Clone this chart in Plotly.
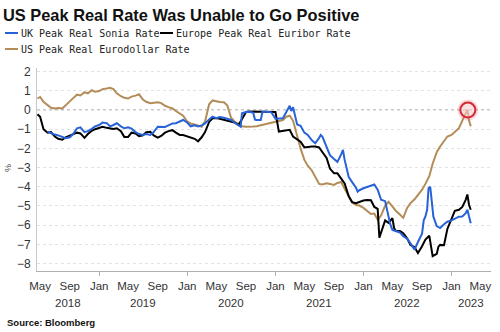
import plotly.graph_objects as go

# ---------------- data ----------------
us_dates = ["2018-04-20","2018-05-01","2018-05-15","2018-06-01","2018-06-15","2018-07-01","2018-07-15","2018-08-01","2018-08-15","2018-09-01","2018-09-15","2018-10-01","2018-10-15","2018-11-01","2018-11-15","2018-12-01","2018-12-15",
 "2019-01-01","2019-01-15","2019-02-01","2019-02-15","2019-03-01","2019-03-15","2019-04-01","2019-04-15","2019-05-01","2019-05-15","2019-06-01","2019-06-15","2019-07-01","2019-07-15","2019-08-01","2019-08-15","2019-09-01","2019-09-15","2019-10-01","2019-10-15","2019-11-01","2019-11-15","2019-12-01","2019-12-15",
 "2020-01-01","2020-01-15","2020-02-01","2020-02-15","2020-03-01","2020-03-15","2020-04-01","2020-04-15","2020-05-01","2020-05-15","2020-06-01","2020-06-15","2020-07-01","2020-07-15","2020-08-01","2020-08-15","2020-09-01","2020-09-15","2020-10-01","2020-10-15","2020-11-01","2020-11-15","2020-12-01","2020-12-15",
 "2021-01-01","2021-01-15","2021-02-01","2021-02-15","2021-03-01","2021-03-15","2021-04-01","2021-04-15","2021-05-01","2021-05-15","2021-06-01","2021-06-15","2021-07-01","2021-07-15","2021-08-01","2021-08-15","2021-09-01","2021-09-15","2021-10-01","2021-10-15","2021-11-01","2021-11-15","2021-12-01","2021-12-15",
 "2022-01-01","2022-01-15","2022-02-01","2022-02-15","2022-03-01","2022-03-15","2022-04-01","2022-04-15","2022-05-01","2022-05-15","2022-06-01","2022-06-15","2022-07-01","2022-07-15","2022-08-01","2022-08-15","2022-09-01","2022-09-15","2022-10-01","2022-10-15","2022-11-01","2022-11-15","2022-12-01","2022-12-15",
 "2023-01-01","2023-01-15","2023-02-01","2023-02-15","2023-03-01","2023-03-08","2023-03-15","2023-03-22"]
us_values = [0.60,0.68,0.43,0.24,0.12,0.08,0.10,0.08,0.26,0.48,0.62,0.80,0.76,0.93,0.87,1.03,0.95,
 0.99,1.09,1.12,1.16,1.09,0.87,0.72,0.64,0.60,0.70,0.75,0.82,0.55,0.43,0.35,0.38,0.40,0.36,0.22,0.15,0.08,-0.05,-0.18,-0.30,
 -0.60,-0.70,-0.75,-0.82,-0.87,-0.60,0.30,0.50,0.45,0.42,0.40,0.25,-0.40,-0.60,-0.72,-0.85,-0.87,-0.88,-0.86,-0.85,-0.80,-0.75,-0.70,-0.65,
 -0.60,-0.55,-0.52,-0.35,-0.30,-0.55,-1.40,-2.00,-2.60,-2.90,-3.15,-3.45,-3.85,-3.88,-3.82,-3.85,-3.90,-3.80,-3.75,-4.10,-4.50,-4.82,-4.95,-4.98,
 -5.10,-5.25,-5.42,-5.40,-5.72,-5.50,-4.98,-4.78,-5.05,-5.25,-5.45,-5.62,-5.10,-4.85,-4.65,-4.45,-4.15,-3.85,-3.45,-2.80,-2.20,-1.90,-1.62,-1.38,
 -1.30,-1.15,-0.95,-0.55,-0.20,0.02,-0.55,-0.85]

eu_dates = ["2018-04-20","2018-05-01","2018-05-15","2018-06-01","2018-06-15","2018-07-01","2018-07-15","2018-08-01","2018-08-15","2018-09-01","2018-09-15","2018-10-01","2018-10-15","2018-11-01","2018-11-15","2018-12-01","2018-12-15",
 "2019-01-01","2019-01-15","2019-02-01","2019-02-15","2019-03-01","2019-03-15","2019-04-01","2019-04-15","2019-05-01","2019-05-15","2019-06-01","2019-06-15","2019-07-01","2019-07-15","2019-08-01","2019-08-15","2019-09-01","2019-09-15","2019-10-01","2019-10-15","2019-11-01","2019-11-15","2019-12-01","2019-12-15",
 "2020-01-01","2020-01-15","2020-02-01","2020-02-15","2020-03-01","2020-03-15","2020-04-01","2020-04-15","2020-05-01","2020-05-15","2020-06-01","2020-06-15","2020-07-01","2020-07-15","2020-08-01","2020-08-15","2020-09-01","2020-09-15","2020-10-01","2020-10-15","2020-11-01","2020-11-15","2020-12-01","2020-12-15",
 "2021-01-01","2021-01-15","2021-02-01","2021-02-15","2021-03-01","2021-03-15","2021-04-01","2021-04-15","2021-05-01","2021-05-15","2021-06-01","2021-06-15","2021-07-01","2021-07-15","2021-08-01","2021-08-15","2021-09-01","2021-09-15","2021-10-01","2021-10-15","2021-11-01","2021-11-15","2021-12-01","2021-12-15",
 "2022-01-01","2022-01-15","2022-02-01","2022-02-15","2022-03-01","2022-03-08","2022-03-15","2022-04-01","2022-04-15","2022-05-01","2022-05-08","2022-05-15","2022-06-01","2022-06-15","2022-07-01","2022-07-15","2022-08-01","2022-08-15","2022-09-01","2022-09-15","2022-10-01","2022-10-08","2022-10-15","2022-11-01","2022-11-08","2022-11-15","2022-12-01","2022-12-15",
 "2023-01-01","2023-01-15","2023-02-01","2023-02-15","2023-03-01","2023-03-08","2023-03-15","2023-03-22"]
eu_values = [-0.22,-0.35,-1.00,-1.18,-1.15,-1.38,-1.50,-1.55,-1.42,-1.33,-1.28,-1.18,-1.22,-1.45,-1.25,-1.08,-1.00,
 -0.92,-0.87,-0.93,-0.97,-0.99,-0.95,-1.10,-1.40,-1.40,-1.18,-1.22,-1.36,-1.32,-1.15,-1.13,-1.32,-1.44,-1.35,-1.18,-1.10,-1.05,-1.18,-1.30,-1.30,
 -1.37,-1.42,-1.50,-1.63,-1.42,-1.15,-0.62,-0.43,-0.42,-0.46,-0.52,-0.56,-0.60,-0.65,-0.78,-0.50,-0.10,-0.08,-0.08,-0.07,-0.08,-0.08,-0.07,-0.08,
 -0.10,-1.12,-1.10,-1.05,-1.03,-1.38,-1.55,-1.65,-1.95,-1.92,-1.90,-1.90,-1.95,-2.20,-2.50,-3.05,-3.30,-3.30,-3.60,-3.83,-4.50,-4.80,-4.86,-4.78,
 -4.72,-4.69,-4.70,-5.05,-5.15,-6.65,-6.35,-5.75,-5.88,-5.64,-6.15,-6.30,-6.30,-6.42,-6.68,-7.03,-7.15,-7.45,-7.10,-6.75,-6.55,-7.15,-7.62,-7.50,-7.12,-7.03,-7.05,-6.20,
 -5.65,-5.25,-5.20,-5.05,-4.68,-4.40,-4.95,-5.20]

uk_dates = ["2018-06-01","2018-06-15","2018-07-01","2018-07-15","2018-08-01","2018-08-15","2018-09-01","2018-09-15","2018-10-01","2018-10-15","2018-11-01","2018-11-15","2018-12-01","2018-12-15",
 "2019-01-01","2019-01-15","2019-02-01","2019-02-15","2019-03-01","2019-03-15","2019-04-01","2019-04-15","2019-05-01","2019-05-15","2019-06-01","2019-06-15","2019-07-01","2019-07-15","2019-08-01","2019-08-15","2019-09-01","2019-09-15","2019-10-01","2019-10-15","2019-11-01","2019-11-15","2019-12-01","2019-12-15",
 "2020-01-01","2020-01-15","2020-02-01","2020-02-15","2020-03-01","2020-03-15","2020-04-01","2020-04-15","2020-05-01","2020-05-15","2020-06-01","2020-06-15","2020-07-01","2020-07-15","2020-08-01","2020-08-10","2020-08-15","2020-09-01","2020-09-15","2020-10-01","2020-10-08","2020-10-15","2020-11-01","2020-11-08","2020-11-15","2020-12-01","2020-12-15",
 "2021-01-01","2021-01-15","2021-02-01","2021-02-15","2021-03-01","2021-03-08","2021-03-15","2021-04-01","2021-04-15","2021-05-01","2021-05-15","2021-06-01","2021-06-15","2021-07-01","2021-07-08","2021-07-15","2021-08-01","2021-08-15","2021-09-01","2021-09-15","2021-10-01","2021-10-08","2021-10-15","2021-11-01","2021-11-15","2021-12-01","2021-12-08","2021-12-15",
 "2022-01-01","2022-01-15","2022-02-01","2022-02-15","2022-03-01","2022-03-15","2022-04-01","2022-04-15","2022-04-22","2022-05-01","2022-05-15","2022-06-01","2022-06-15","2022-07-01","2022-07-15","2022-08-01","2022-08-15","2022-09-01","2022-09-08","2022-09-15","2022-09-22","2022-09-28","2022-10-05","2022-10-12","2022-10-18","2022-11-01","2022-11-15","2022-12-01","2022-12-15",
 "2023-01-01","2023-01-15","2023-02-01","2023-02-15","2023-03-01","2023-03-08","2023-03-15","2023-03-22"]
uk_values = [-1.13,-1.22,-1.28,-1.32,-1.40,-1.47,-1.42,-1.25,-0.95,-0.90,-1.15,-1.10,-0.98,-0.85,
 -0.78,-0.65,-0.68,-0.85,-0.78,-0.69,-0.85,-0.95,-0.90,-0.97,-1.15,-1.25,-1.30,-1.25,-1.30,-1.15,-0.87,-0.87,-0.88,-0.80,-0.70,-0.69,-0.58,-0.52,
 -0.65,-0.85,-0.80,-0.86,-0.80,-0.70,-0.50,-0.35,-0.42,-0.36,-0.40,-0.45,-0.52,-0.65,-0.80,-0.87,-0.17,-0.10,-0.09,-0.15,-0.50,-0.52,-0.52,-0.10,-0.08,-0.10,-0.12,
 -0.45,-0.45,-0.43,-0.10,0.22,-0.05,0.15,-0.75,-0.82,-1.18,-1.30,-1.58,-1.73,-1.45,-1.30,-1.40,-1.90,-2.35,-2.55,-2.70,-2.30,-2.08,-2.60,-3.50,-3.76,-4.05,-4.25,-4.18,
 -4.08,-4.02,-3.95,-3.88,-4.15,-4.68,-4.75,-5.50,-5.95,-6.25,-6.30,-6.38,-6.58,-6.70,-6.95,-7.28,-6.88,-6.45,-5.75,-5.55,-5.20,-4.08,-4.00,-5.03,-5.56,-6.05,-6.15,-5.95,-5.82,
 -5.75,-5.65,-5.56,-5.55,-5.38,-5.20,-5.60,-5.90]

highlight_date = ["2023-03-10"]
highlight_value = [0.0]

month_tick_dates = ["2018-05-01","2018-09-01","2019-01-01","2019-05-01","2019-09-01","2020-01-01","2020-05-01","2020-09-01",
                    "2021-01-01","2021-05-01","2021-09-01","2022-01-01","2022-05-01","2022-09-01","2023-01-01","2023-05-01"]
month_tick_labels = ["May","Sep","Jan"] * 5 + ["May"]
year_labels = ["2018", "2019", "2020", "2021", "2022", "2023"]
jan_ticks = ["2019-01-01", "2020-01-01", "2021-01-01", "2022-01-01", "2023-01-01"]
y_ticks = list(range(-8, 3))

x_range = ["2018-04-18", "2023-06-14"]
y_range = [-8.39, 2.19]

names = ["UK Peak Real Sonia Rate", "Europe Peak Real Euribor Rate", "US Peak Real Eurodollar Rate"]
BLUE, BLACK, TAN = "#2763d6", "#000000", "#b38c57"

# ---------------- layout helpers ----------------
W, H = 500, 332
ML, MR, MT, MB = 37, 9, 68, 61
PW, PH = W - ML - MR, H - MT - MB
def px2x(px):
    return (px - ML) / PW
def py2y(py):
    return (H - MB - py) / PH

fig = go.Figure()
fig.add_trace(go.Scatter(x=us_dates, y=us_values, mode="lines", name=names[2],
                         line=dict(color=TAN, width=2), showlegend=False))
fig.add_trace(go.Scatter(x=eu_dates, y=eu_values, mode="lines", name=names[1],
                         line=dict(color=BLACK, width=2), showlegend=False))
fig.add_trace(go.Scatter(x=uk_dates, y=uk_values, mode="lines", name=names[0],
                         line=dict(color=BLUE, width=2), showlegend=False))
# highlight circle
fig.add_trace(go.Scatter(x=highlight_date, y=highlight_value, mode="markers", showlegend=False,
                         marker=dict(size=21, color="rgba(235,120,130,0.28)", line=dict(width=0))))
fig.add_trace(go.Scatter(x=highlight_date, y=highlight_value, mode="markers", showlegend=False,
                         marker=dict(size=15, color="rgba(255,235,235,0.45)",
                                     line=dict(color="#d42a36", width=2))))

shapes = [
    dict(type="line", xref="paper", yref="y", x0=0, x1=1, y0=0, y1=0, layer="below",
         line=dict(color="#8f8f8f", width=1, dash="3px,3px")),
]
annotations = []
legend_items = [(5, 33, BLUE, names[0]), (160, 33, BLACK, names[1]), (5, 49, TAN, names[2])]
for lx, ly, col, txt in legend_items:
    shapes.append(dict(type="line", xref="paper", yref="paper",
                       x0=px2x(lx), x1=px2x(lx + 13), y0=py2y(ly), y1=py2y(ly),
                       line=dict(color=col, width=2)))
    annotations.append(dict(xref="paper", yref="paper", x=px2x(lx + 14), y=py2y(ly),
                            xanchor="left", yanchor="middle", showarrow=False, text=txt,
                            font=dict(family="DejaVu Sans Mono", size=10, color="#222")))

# year labels centred on the visible part of each year
import pandas as pd
r0, r1 = pd.Timestamp(x_range[0]), pd.Timestamp(x_range[1])
for yl in year_labels:
    a = max(pd.Timestamp(f"{yl}-01-01"), r0)
    b = min(pd.Timestamp(f"{int(yl)+1}-01-01"), r1)
    mid = a + (b - a) / 2
    annotations.append(dict(xref="x", yref="paper", x=mid.strftime("%Y-%m-%d"), y=0, yshift=-32,
                            xanchor="center", yanchor="middle", showarrow=False, text=yl,
                            font=dict(family="Liberation Sans", size=11.5, color="#333")))

annotations.append(dict(xref="paper", yref="paper", x=px2x(5), y=py2y(322), xanchor="left", yanchor="middle",
                        showarrow=False, text="<b>Source: Bloomberg</b>",
                        font=dict(family="Liberation Sans", size=9.5, color="#111")))
annotations.append(dict(xref="paper", yref="paper", x=px2x(8), y=py2y(168), xanchor="center", yanchor="middle",
                        showarrow=False, text="%", textangle=-90,
                        font=dict(family="Liberation Sans", size=9, color="#444")))

fig.update_layout(
    width=W, height=H,
    margin=dict(l=ML, r=MR, t=MT, b=MB, pad=0),
    paper_bgcolor="white", plot_bgcolor="white",
    title=dict(text="<b>US Peak Real Rate Was Unable to Go Positive</b>",
               x=3 / W, xanchor="left", y=1 - 15 / H, yanchor="middle",
               font=dict(family="Liberation Sans", size=16.4, color="#111")),
    showlegend=False,
    shapes=shapes, annotations=annotations,
    xaxis=dict(type="date", range=x_range, tickmode="array", tickvals=month_tick_dates,
               ticktext=month_tick_labels, ticks="", showgrid=False, zeroline=False,
               showline=True, linecolor="#b0b0b0", linewidth=1,
               tickfont=dict(family="Liberation Sans", size=11.5, color="#333"),
               ticklabelstandoff=4,
               minor=dict(tickmode="array", tickvals=jan_ticks, ticks="outside", ticklen=4,
                          tickcolor="#b0b0b0", showgrid=False)),
    yaxis=dict(range=y_range, tickmode="array", tickvals=y_ticks, ticks="",
               showgrid=True, gridcolor="#e2e2e2", griddash="dot", gridwidth=1,
               zeroline=False, showline=True, linecolor="#c8c8c8", linewidth=1,
               tickfont=dict(family="Liberation Sans", size=12, color="#333"),
               ticklabelstandoff=3),
)

fig.write_html("out.html", include_plotlyjs=True, config={"displayModeBar": False})
